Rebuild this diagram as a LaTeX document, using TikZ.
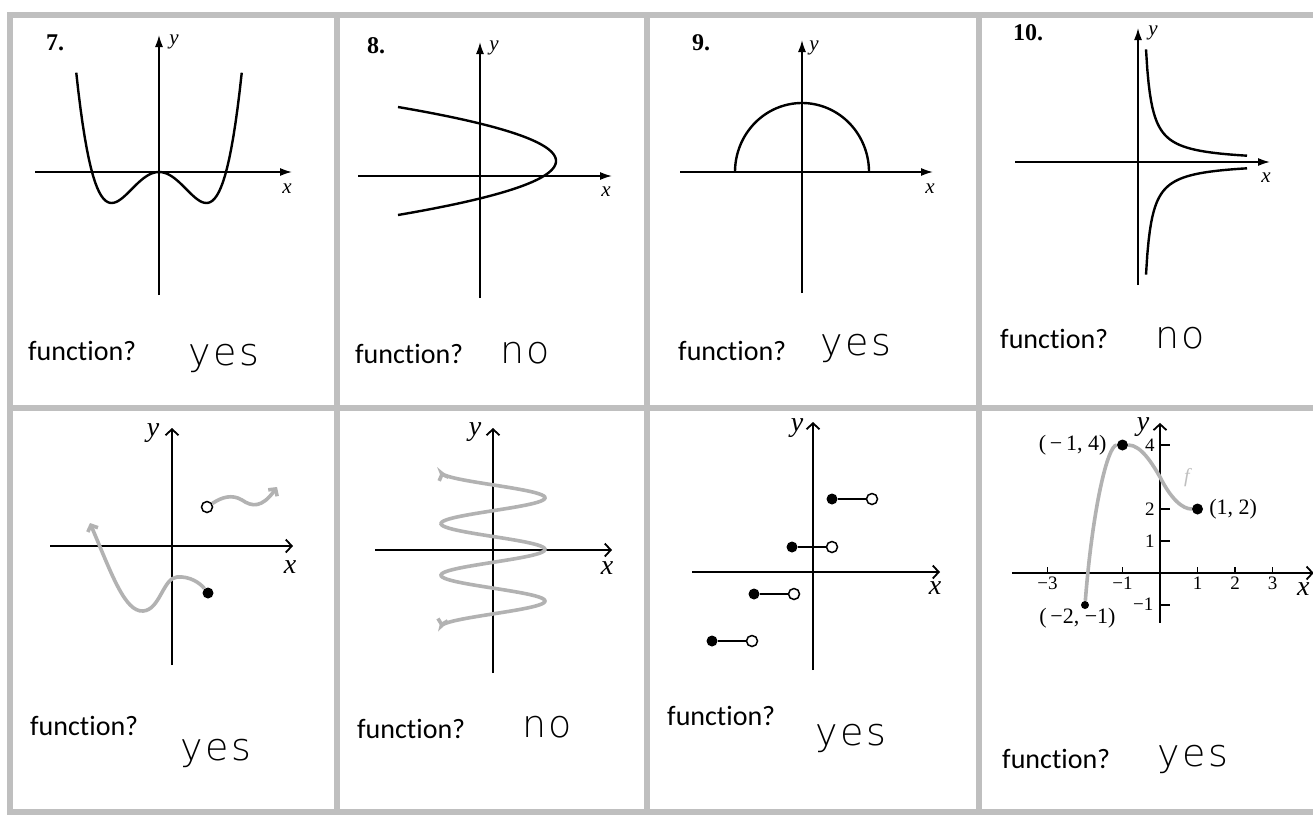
\documentclass[tikz,border=0pt]{standalone}
\usepackage{fontspec}
\setmainfont{Liberation Serif}
\newfontfamily\sansfn[Ligatures=NoCommon]{Carlito}
\newfontfamily\handfn[LetterSpace=7]{DejaVu Sans ExtraLight}
\usetikzlibrary{arrows.meta}

\tikzset{
  frame/.style={draw=gray!50, line width=6pt},
  axis/.style={line width=1.6pt, -{Latex[length=12pt,width=8pt]}},
  haxis/.style={line width=1.8pt, -{Straight Barb[length=6pt,width=13pt]}},
  curve/.style={line width=2.4pt},
  pencil/.style={line width=3.6pt, draw=gray!60},
  fnlabel/.style={font=\sansfn\fontsize{28}{32}\selectfont, anchor=base west, inner sep=0pt},
  answer/.style={font=\handfn\fontsize{38}{42}\selectfont, anchor=base west, inner sep=0pt},
  num/.style={font=\bfseries\fontsize{24}{27}\selectfont, anchor=base west, inner sep=0pt},
  axlbl/.style={font=\itshape\fontsize{21}{23}\selectfont, inner sep=0pt},
  hlbl/.style={font=\itshape\fontsize{28}{30}\selectfont, inner sep=0pt},
  ticklbl/.style={font=\fontsize{19}{21}\selectfont, inner sep=0pt},
  ptlbl/.style={font=\fontsize{22}{24}\selectfont, inner sep=0pt},
  dot/.style={circle, fill=black, inner sep=0pt, minimum size=11pt},
  hole/.style={circle, draw=black, fill=white, line width=1.5pt, inner sep=0pt, minimum size=11pt}
}

\begin{document}
\begin{tikzpicture}[x=1pt, y=-1pt]
\useasboundingbox (0,0) rectangle (1313,817);
\fill[white] (0,0) rectangle (1313,817);

% Frame
\draw[frame] (7,15) -- (1313,15);
\draw[frame] (7,408) -- (1313,408);
\draw[frame] (7,812) -- (1313,812);
\foreach \xx in {10,337,647,979}{
  \draw[frame] (\xx,12) -- (\xx,815);
}

% 7.
\node[num] (n7) at (46,50) {7.};
\draw[axis] (159,295) -- (159,35);
\draw[axis] (35,172) -- (292,172);
\node[axlbl] (y7) at (174,42) {y};
\node[axlbl] (x7) at (287,189) {x};
\draw[curve] plot[domain=-1.235:1.235, samples=80] ({159+67*\x}, {172-124*\x*\x*(\x*\x-1)});

% 8.
\node[num] (n8) at (367,53) {8.};
\draw[axis] (480,298) -- (480,42);
\draw[axis] (358,176) -- (612,176);
\node[axlbl] (y8) at (494,48) {y};
\node[axlbl] (x8) at (606,192) {x};
\draw[curve] plot[domain=-54:54, samples=80, variable=\t] ({556-0.0542*\t*\t}, {161+\t});

% 9.
\node[num] (n9) at (692,50) {9.};
\draw[axis] (802,293) -- (802,40);
\draw[axis] (680,172) -- (933,172);
\node[axlbl] (y9) at (814,48) {y};
\node[axlbl] (x9) at (930,189) {x};
\draw[curve] plot[domain=0:180, samples=80] ({802+67*cos(\x)}, {172-69*sin(\x)});

% 10.
\node[num] (n10) at (1013,40) {10.};
\draw[axis] (1138,285) -- (1138,28);
\draw[axis] (1015,162) -- (1270,162);
\node[axlbl] (y10) at (1153,33) {y};
\node[axlbl] (x10) at (1266,178) {x};
\draw[curve] plot[domain=1146:1247, samples=80] (\x, {162-676/(\x-1140)});
\draw[curve] plot[domain=1146:1247, samples=80] (\x, {162+676/(\x-1140)});

% split graph
\draw[haxis] (172,665) -- (172,428);
\draw[haxis] (50,546) -- (293,546);
\node[hlbl] (y11) at (153,433) {y};
\node[hlbl] (x11) at (290,567) {x};
\node[dot] (p5dot) at (208,593) {};
\node[hole] (p5hole) at (207,507) {};
\draw[pencil, -{Straight Barb[length=5pt,width=11pt]}] (p5dot)
  .. controls (200,583) and (190,576) .. (177,577)
  .. controls (163,578) and (160,610) .. (143,611)
  .. controls (125,612) and (112,575) .. (90,523);
\draw[pencil, -{Straight Barb[length=5pt,width=11pt]}] (p5hole)
  .. controls (222,497) and (232,494) .. (242,500)
  .. controls (252,507) and (262,508) .. (277,487);

% wave
\draw[haxis] (493,673) -- (493,428);
\draw[haxis] (375,550) -- (612,550);
\node[hlbl] (y12) at (475,432) {y};
\node[hlbl] (x12) at (607,568) {x};
\draw[pencil, {Straight Barb[length=5pt,width=10pt]}-{Straight Barb[length=5pt,width=10pt]}]
  plot[domain=0:155, samples=150, variable=\t] ({493-52*cos(6.9767*\t)}, {472+\t});

% steps
\draw[haxis] (813,670) -- (813,422);
\draw[haxis] (692,572) -- (940,572);
\node[hlbl] (y13) at (797,428) {y};
\node[hlbl] (x13) at (935,588) {x};
\foreach \i/\xa/\yy in {1/832/499, 2/792/547, 3/754/594, 4/712/641}{
  \node[dot] (sa\i) at (\xa,\yy) {};
  \node[hole] (sb\i) at (\xa+40,\yy) {};
  \draw[line width=1.6pt] (sa\i) -- (sb\i);
}

% graph of f
\begin{scope}[shift={(1160,573)}, x=37.5pt, y=32pt]
  \draw[haxis] (0,-1.56) -- (0,4.69);
  \draw[haxis] (-3.95,0) -- (4.1,0);
  \node[hlbl] (y14) at (-0.45,4.55) {y};
  \node[hlbl] (x14) at (3.82,-0.5) {x};
  \foreach \xx/\lbl in {-3/−3, -1/−1, 1/1, 2/2, 3/3}{
    \draw[line width=1.2pt] (\xx,0) -- (\xx,0.2);
    \node[ticklbl] (tx\xx) at (\xx,-0.33) {\lbl};
  }
  \foreach \yy/\lbl in {4/4, 2/2, 1/1}{
    \draw[line width=1.2pt] (0,\yy) -- (0.27,\yy);
    \node[ticklbl] (ty\yy) at (-0.27,\yy) {\lbl};
  }
  \draw[line width=1.2pt] (0,-1) -- (0.27,-1);
  \node[ticklbl] (tym1) at (-0.45,-0.98) {−1};
  \node[dot, minimum size=8pt] (pm2) at (-2,-1) {};
  \node[dot] (pm1) at (-1,4) {};
  \node[dot] (pp1) at (1,2) {};
  \draw[pencil] (pm2) .. controls (-1.8,2) and (-1.4,4) .. (pm1)
    .. controls (-0.5,4) and (-0.2,3.4) .. (0,3)
    .. controls (0.3,2.3) and (0.6,2) .. (pp1);
  \node[ptlbl] (lm1) at (-2.33,4) {(\,−\,1, 4)};
  \node[ptlbl] (lp1) at (1.95,2) {(1, 2)};
  \node[ptlbl] (lm2) at (-2.2,-1.42) {(\,−2, −1)};
  \node[font=\itshape\fontsize{20}{22}\selectfont, text=gray!50] (flbl) at (0.72,2.97) {f};
\end{scope}

% answers
\node[fnlabel] (fn7) at (28,360) {function?};
\node[answer] (an7) at (188,365) {yes};
\node[fnlabel] (fn8) at (355,363) {function?};
\node[answer] (an8) at (500,363) {no};
\node[fnlabel] (fn9) at (678,360) {function?};
\node[answer] (an9) at (820,355) {yes};
\node[fnlabel] (fn10) at (1000,348) {function?};
\node[answer] (an10) at (1155,348) {no};
\node[fnlabel] (fn11) at (30,735) {function?};
\node[answer] (an11) at (180,760) {yes};
\node[fnlabel] (fn12) at (357,738) {function?};
\node[answer] (an12) at (522,737) {no};
\node[fnlabel] (fn13) at (667,725) {function?};
\node[answer] (an13) at (815,745) {yes};
\node[fnlabel] (fn14) at (1002,768) {function?};
\node[answer] (an14) at (1157,766) {yes};
\end{tikzpicture}
\end{document}
